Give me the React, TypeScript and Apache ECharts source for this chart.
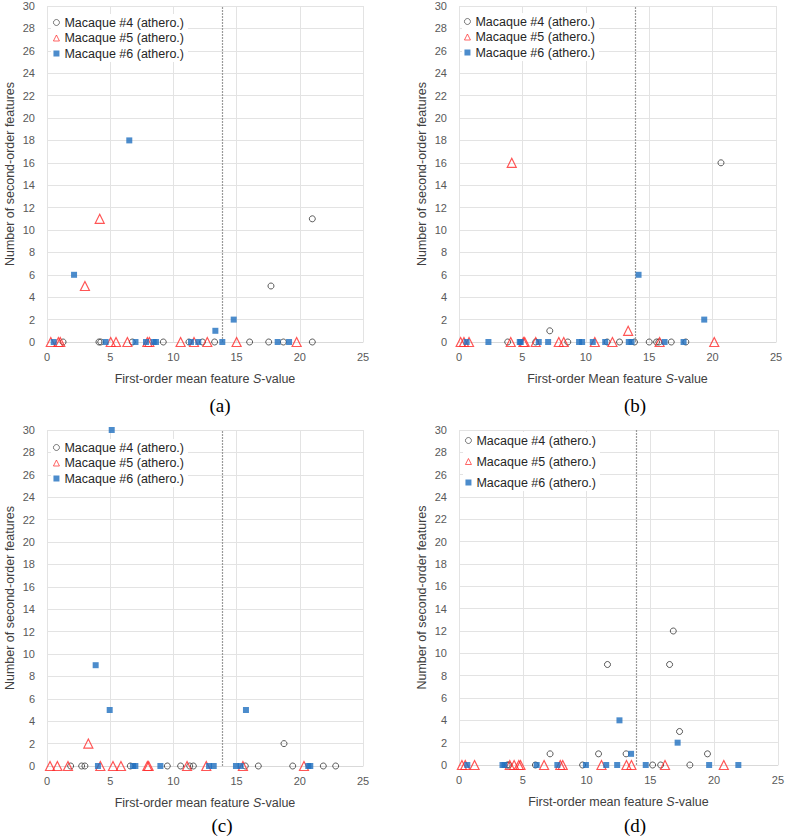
import React, { useEffect, useRef } from "react";
import * as echarts from "echarts";

// Threshold (vertical dotted line)
const THRESHOLD = 13.9;

const SERIES_NAMES = ["Macaque #4 (athero.)", "Macaque #5 (athero.)", "Macaque #6 (athero.)"];
const PANEL_LABELS = ["(a)", "(b)", "(c)", "(d)"];
const X_TITLES = ["First-order mean feature ", "First-order Mean feature ", "First-order mean feature ", "First-order mean feature "];
const Y_TITLE = "Number of second-order features";

// Panel (a)
const a4 = [[1.27,0],[4.11,0],[4.25,0],[6.75,0],[9.2,0],[11.23,0],[12.3,0],[13.26,0],[16.03,0],[17.54,0],[18.7,0],[20.99,0],[17.72,5],[20.99,11]];
const a5 = [[0.3,0],[0.9,0],[1.05,0],[5.04,0],[5.46,0],[6.36,0],[7.94,0],[8.1,0],[10.57,0],[11.63,0],[12.68,0],[15.0,0],[19.75,0],[3.0,5],[4.17,11]];
const a6 = [[0.53,0],[4.64,0],[7.0,0],[7.83,0],[8.44,0],[8.62,0],[11.39,0],[11.97,0],[13.87,0],[18.25,0],[19.15,0],[13.32,1],[14.77,2],[2.14,6],[6.51,18]];

// Panel (b)
const b4 = [[3.84,0],[6.05,0],[8.58,0],[11.68,0],[12.66,0],[13.84,0],[15.0,0],[15.58,0],[15.76,0],[16.74,0],[17.89,0],[7.16,1],[20.66,16]];
const b5 = [[0.13,0],[0.39,0],[0.79,0],[4.08,0],[5.08,0],[5.18,0],[6.05,0],[7.87,0],[8.26,0],[10.71,0],[12.1,0],[15.82,0],[20.13,0],[13.34,1],[4.16,16]];
const b6 = [[0.6,0],[2.32,0],[4.79,0],[4.87,0],[6.29,0],[7.03,0],[9.47,0],[9.71,0],[10.55,0],[11.53,0],[13.39,0],[13.61,0],[16.21,0],[17.71,0],[19.34,2],[14.16,6]];

// Panel (c)
const c4 = [[1.87,0],[2.74,0],[3.0,0],[6.59,0],[9.52,0],[10.57,0],[11.29,0],[11.58,0],[15.69,0],[16.72,0],[19.44,0],[21.86,0],[22.84,0],[18.75,2]];
const c5 = [[0.24,0],[0.82,0],[1.66,0],[4.22,0],[5.22,0],[5.85,0],[7.94,0],[8.04,0],[11.08,0],[12.6,0],[15.5,0],[20.33,0],[3.27,2]];
const c6 = [[4.03,0],[6.8,0],[6.99,0],[8.97,0],[12.82,0],[13.19,0],[14.95,0],[15.32,0],[20.67,0],[20.83,0],[4.96,5],[15.74,5],[3.85,9],[5.12,30]];

// Panel (d)
const d4 = [[3.78,0],[3.9,0],[5.99,0],[9.69,0],[15.18,0],[15.81,0],[18.1,0],[7.14,1],[10.94,1],[13.1,1],[19.48,1],[17.29,3],[11.64,9],[16.51,9],[16.8,12]];
const d5 = [[0.23,0],[0.49,0],[1.22,0],[3.98,0],[4.32,0],[4.69,0],[4.82,0],[6.67,0],[7.94,0],[8.13,0],[11.17,0],[13.13,0],[13.52,0],[16.15,0],[20.76,0]];
const d6 = [[0.65,0],[3.41,0],[3.57,0],[6.09,0],[7.71,0],[9.95,0],[11.54,0],[12.4,0],[14.64,0],[19.61,0],[21.9,0],[13.49,1],[17.14,2],[12.58,4]];

const PANEL_DATA = [[a4, a5, a6], [b4, b5, b6], [c4, c5, c6], [d4, d5, d6]];

const FONT = "Liberation Sans";

export default function App() {
  const ref = useRef<HTMLDivElement>(null);
  useEffect(() => {
    if (!ref.current) return;
    const chart = echarts.init(ref.current, null, { renderer: "svg" });

    const grids = [
      { left: 47, top: 6, width: 316, height: 336 },
      { left: 459, top: 6, width: 317, height: 336 },
      { left: 47, top: 430, width: 316, height: 336 },
      { left: 459, top: 430, width: 320, height: 335 },
    ];
    const legendPos = [
      { left: 51, top: 14, itemGap: 2.5 },
      { left: 462, top: 13, itemGap: 2.5 },
      { left: 51, top: 439, itemGap: 2.5 },
      { left: 463, top: 432, itemGap: 8 },
    ];
    const captionPos = [
      [220, 405],
      [635, 405],
      [222, 825],
      [635, 825],
    ];

    const styles = [
      { symbol: "circle", symbolSize: 6, itemStyle: { color: "rgba(255,255,255,0)", borderColor: "#333", borderWidth: 1 } },
      { symbol: "triangle", symbolSize: 9, itemStyle: { color: "rgba(255,255,255,0)", borderColor: "#ff2a2a", borderWidth: 1.2 } },
      { symbol: "rect", symbolSize: 6, itemStyle: { color: "#1f6fbf", borderWidth: 0 } },
    ];
    const legendItemStyles = [
      { color: "rgba(255,255,255,0)", borderColor: "#333", borderWidth: 0.8 },
      { color: "rgba(255,255,255,0)", borderColor: "#ff2a2a", borderWidth: 0.9 },
      { color: "#1f6fbf", borderWidth: 0 },
    ];

    const xAxis: any[] = [];
    const yAxis: any[] = [];
    const series: any[] = [];
    const legend: any[] = [];
    const graphic: any[] = [];

    grids.forEach((g, i) => {
      xAxis.push({
        type: "value",
        gridIndex: i,
        min: 0,
        max: 25,
        interval: 5,
        axisLine: { show: true, lineStyle: { color: "#d9d9d9" } },
        axisTick: { show: false },
        splitLine: { show: true, lineStyle: { color: "#e3e3e3" } },
        axisLabel: { color: "#595959", fontFamily: FONT, fontSize: 11, margin: 9 },
        name: "{n|" + X_TITLES[i] + "}{s|S}{n|-value}",
        nameLocation: "middle",
        nameGap: 30,
        nameTextStyle: {
          rich: {
            n: { fontFamily: FONT, fontSize: 12.5, color: "#404040" },
            s: { fontFamily: FONT, fontSize: 12.5, color: "#404040", fontStyle: "italic" },
          },
        },
      });
      yAxis.push({
        type: "value",
        gridIndex: i,
        min: 0,
        max: 30,
        interval: 2,
        axisLine: { show: false },
        axisTick: { show: false },
        splitLine: { show: true, lineStyle: { color: "#e3e3e3" } },
        axisLabel: { color: "#595959", fontFamily: FONT, fontSize: 11, margin: 12 },
        name: Y_TITLE,
        nameLocation: "middle",
        nameGap: 31,
        nameTextStyle: { fontFamily: FONT, fontSize: 12.5, color: "#404040" },
      });
      PANEL_DATA[i].forEach((data, k) => {
        const s: any = {
          type: "scatter",
          name: SERIES_NAMES[k],
          xAxisIndex: i,
          yAxisIndex: i,
          data,
          clip: false,
          z: 3 + k,
          ...styles[k],
        };
        if (k === 0) {
          s.markLine = {
            silent: true,
            symbol: ["none", "none"],
            label: { show: false },
            lineStyle: { color: "#9a9a9a", type: [2, 1], width: 1.2 },
            data: [{ xAxis: THRESHOLD }],
          };
        }
        series.push(s);
      });
      legend.push({
        orient: "vertical",
        left: legendPos[i].left,
        top: legendPos[i].top,
        itemGap: legendPos[i].itemGap,
        itemWidth: 6,
        itemHeight: 6,
        padding: [2, 4, 2, 2],
        backgroundColor: "#ffffff",
        textStyle: { fontFamily: FONT, fontSize: 12.5, color: "#262626" },
        data: SERIES_NAMES.map((name, k) => ({ name, itemStyle: legendItemStyles[k] })),
      });
      graphic.push({
        type: "text",
        x: captionPos[i][0],
        y: captionPos[i][1],
        style: {
          text: PANEL_LABELS[i],
          font: '19px "Liberation Serif"',
          fill: "#000",
          textAlign: "center",
          textVerticalAlign: "middle",
        },
      });
    });

    chart.setOption({
      animation: false,
      backgroundColor: "#ffffff",
      grid: grids,
      xAxis,
      yAxis,
      series,
      legend,
      graphic,
    });
    return () => chart.dispose();
  }, []);
  return (
    <div
      ref={ref}
      style={{ position: "absolute", left: 0, top: 0, width: 787, height: 837, background: "#fff" }}
    />
  );
}
